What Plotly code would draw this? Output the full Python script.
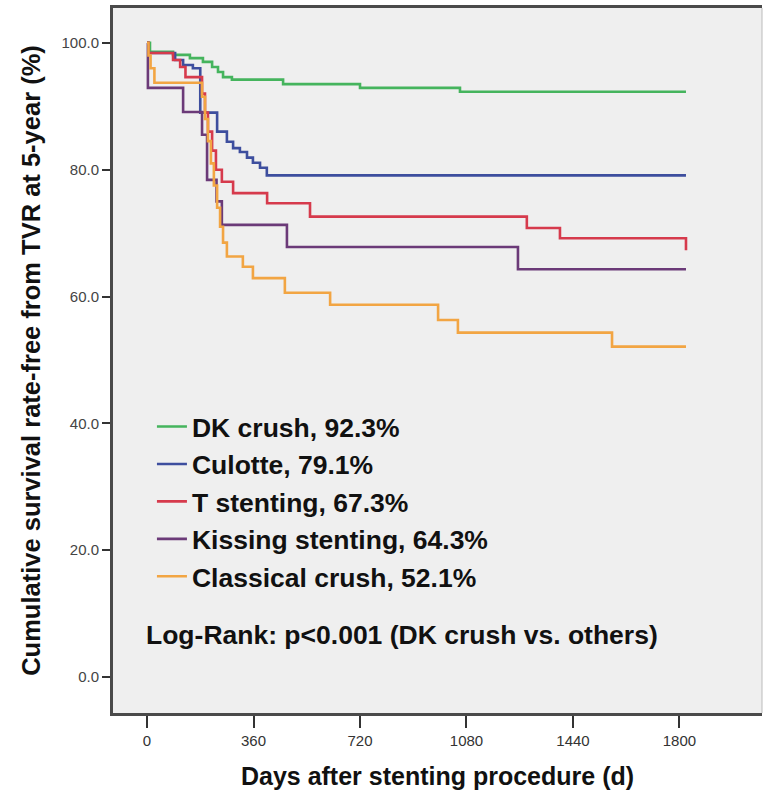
import plotly.graph_objects as go

# Kaplan-Meier step data: day of each change and survival (%) from that day on
dk_days = [0, 10, 88, 145, 189, 220, 240, 257, 287, 460, 720, 1058, 1822]
dk_surv = [100, 98.6, 98.1, 97.6, 97.0, 96.2, 95.4, 94.6, 94.2, 93.5, 92.9, 92.3, 92.3]

culotte_days = [0, 5, 95, 122, 155, 180, 237, 270, 291, 314, 338, 358, 382, 405, 1822]
culotte_surv = [100, 98.4, 97.3, 96.5, 96.0, 89.0, 86.0, 84.4, 83.4, 82.8, 81.9, 81.1, 80.3, 79.1, 79.1]

t_days = [0, 5, 88, 112, 130, 186, 196, 206, 220, 233, 253, 291, 406, 551, 1284, 1396, 1822]
t_surv = [100, 98.4, 97.3, 96.2, 94.6, 92.0, 89.0, 86.0, 83.0, 80.0, 78.1, 76.3, 74.7, 72.6, 70.8, 69.2, 67.3]

kiss_days = [0, 3, 122, 186, 203, 235, 253, 473, 1254, 1822]
kiss_surv = [100, 92.9, 89.1, 85.5, 78.4, 75.0, 71.3, 67.8, 64.3, 64.3]

crush_days = [0, 5, 12, 25, 186, 196, 206, 216, 226, 237, 247, 257, 270, 324, 358, 466,
              619, 984, 1051, 1572, 1822]
crush_surv = [100, 98.0, 96.0, 93.7, 91.5, 88.0, 84.5, 81.0, 77.5, 74.0, 71.0, 68.5, 66.3,
              64.7, 62.9, 60.6, 58.7, 56.3, 54.3, 52.1, 52.1]

group_names = ["DK crush, 92.3%", "Culotte, 79.1%", "T stenting, 67.3%",
               "Kissing stenting, 64.3%", "Classical crush, 52.1%"]
group_colors = ["#45b45d", "#3d4e9e", "#d63a4c", "#6b3a78", "#f2a543"]

x_ticks = [0, 360, 720, 1080, 1440, 1800]
y_ticks = [0, 20, 40, 60, 80, 100]

series = [(dk_days, dk_surv), (culotte_days, culotte_surv), (t_days, t_surv),
          (kiss_days, kiss_surv), (crush_days, crush_surv)]

fig = go.Figure()
for (days, surv), name, color in zip(series, group_names, group_colors):
    fig.add_trace(go.Scatter(
        x=days, y=surv, mode="lines", name=name,
        line=dict(color=color, width=2.6, shape="hv"),
    ))

font_family = "Liberation Sans, Arial, sans-serif"

fig.update_layout(
    width=766, height=794,
    margin=dict(l=113, r=4, t=8, b=81),
    paper_bgcolor="white",
    plot_bgcolor="#efefef",
    font=dict(family=font_family, color="#111111"),
    showlegend=True,
    legend=dict(
        x=0.06, y=0.44, xanchor="left", yanchor="top",
        bgcolor="rgba(0,0,0,0)",
        font=dict(family=font_family, size=26.5, color="#111111", weight="bold"),
        tracegroupgap=0, itemwidth=30,
    ),
    xaxis=dict(
        range=[-115, 2079], tickvals=x_ticks, ticktext=[str(v) for v in x_ticks],
        showgrid=False, zeroline=False,
        showline=True, linecolor="#4a4a4a", linewidth=3, mirror=True,
        ticks="outside", ticklen=12, tickwidth=2, tickcolor="#333333",
        tickfont=dict(size=15, color="#333333"),
        title=dict(text="Days after stenting procedure (d)",
                   font=dict(size=25, color="#111111", weight="bold"), standoff=20),
    ),
    yaxis=dict(
        range=[-5.68, 105.5], tickvals=y_ticks, tickformat=".1f",
        showgrid=False, zeroline=False,
        showline=True, linecolor="#4a4a4a", linewidth=3,
        ticks="outside", ticklen=8, tickwidth=2, tickcolor="#333333",
        tickfont=dict(size=15, color="#444444"),
        title=dict(text="Cumulative survival rate-free from TVR at 5-year (%)",
                   font=dict(size=25.5, color="#111111", weight="bold"), standoff=14),
    ),
)

# right edge of the plotting frame
fig.add_shape(type="line", xref="paper", yref="paper", x0=1, x1=1, y0=0, y1=1,
              line=dict(color="#bbbbbb", width=1))

fig.add_annotation(
    text="Log-Rank: p<0.001 (DK crush vs. others)",
    xref="paper", yref="paper", x=0.047, y=0.111, xanchor="left", yanchor="middle",
    showarrow=False,
    font=dict(family=font_family, size=26.5, color="#111111", weight="bold"),
)

fig.write_html("out.html")
